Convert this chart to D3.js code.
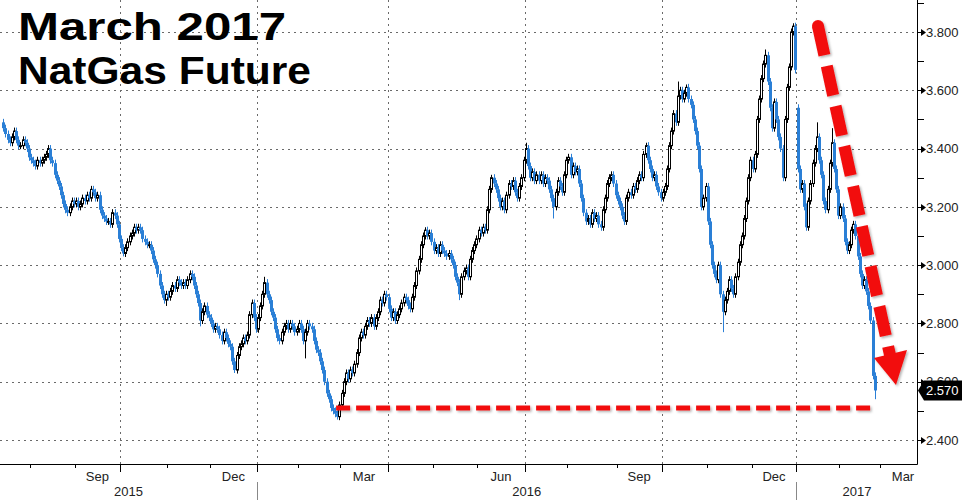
<!DOCTYPE html>
<html><head><meta charset="utf-8">
<script src="https://cdn.jsdelivr.net/npm/d3@7"></script>
<style>html,body{margin:0;padding:0;background:#fff;}svg{display:block;}</style>
</head><body>
<script>
// ---------------- DATA ----------------
const titleLines = ["March 2017", "NatGas Future"];
const yTicks = [2.4, 2.6, 2.8, 3.0, 3.2, 3.4, 3.6, 3.8];
const yMinor = [2.5, 2.7, 2.9, 3.1, 3.3, 3.5, 3.7, 3.9];
const lastValue = 2.570;
const supportLevel = 2.51;
const monthLabels = ["Sep", "Dec", "Mar", "Jun", "Sep", "Dec", "Mar"];
const monthLabelKeys = ["2015-09", "2015-12", "2016-03", "2016-06", "2016-09", "2016-12", "2017-03"];
const yearLabels = ["2015", "2016", "2017"];
const holidays = ["2015-09-07","2015-11-26","2015-12-25","2016-01-01","2016-01-18","2016-02-15","2016-03-25",
  "2016-05-30","2016-07-04","2016-09-05","2016-11-24","2016-12-26","2017-01-02","2017-01-16","2017-02-20"];
const monthKeys = ["2015-07","2015-08","2015-09","2015-10","2015-11","2015-12","2016-01","2016-02","2016-03",
  "2016-04","2016-05","2016-06","2016-07","2016-08","2016-09","2016-10","2016-11","2016-12","2017-01","2017-02"];
// daily closes, one list per month (trading days from 15 Jul 2015 to 24 Feb 2017)
const closesByMonth = [
  [3.47,3.45,3.43,3.42,3.44,3.46,3.43,3.41,3.41,3.43,3.42,3.40,3.37],
  [3.36,3.35,3.34,3.36,3.35,3.36,3.37,3.38,3.40,3.36,3.35,3.31,3.29,3.27,3.24,3.21,3.19,3.18,3.20,3.22,3.21],
  [3.22,3.20,3.21,3.23,3.22,3.24,3.23,3.26,3.25,3.23,3.24,3.19,3.17,3.16,3.15,3.15,3.14,3.18,3.17,3.14,3.09],
  [3.06,3.04,3.06,3.08,3.10,3.11,3.13,3.12,3.13,3.12,3.09,3.08,3.07,3.07,3.05,3.02,3.00,2.97,2.93,2.90,2.88,2.90],
  [2.89,2.91,2.93,2.92,2.95,2.94,2.93,2.94,2.93,2.95,2.97,2.96,2.93,2.90,2.87,2.81,2.84,2.86,2.83,2.82],
  [2.80,2.78,2.79,2.78,2.76,2.74,2.77,2.75,2.73,2.72,2.67,2.64,2.69,2.72,2.73,2.75,2.74,2.76,2.83,2.87,2.82,2.78],
  [2.82,2.86,2.90,2.94,2.90,2.88,2.84,2.82,2.78,2.75,2.74,2.77,2.79,2.80,2.78,2.80,2.79,2.77,2.78],
  [2.80,2.78,2.74,2.77,2.80,2.79,2.78,2.74,2.71,2.70,2.67,2.64,2.60,2.56,2.54,2.51,2.50,2.49,2.48,2.52],
  [2.56,2.60,2.63,2.61,2.64,2.63,2.66,2.70,2.75,2.77,2.76,2.79,2.81,2.80,2.82,2.79,2.82,2.84,2.88,2.87,2.90,2.89],
  [2.85,2.82,2.84,2.81,2.83,2.85,2.87,2.89,2.88,2.86,2.85,2.89,2.93,2.98,3.02,3.07,3.10,3.12,3.10,3.11,3.08],
  [3.05,3.06,3.04,3.07,3.05,3.04,3.03,3.04,3.02,3.00,2.96,2.94,2.90,2.96,2.98,2.99,2.96,3.02,3.05,3.07,3.09],
  [3.12,3.11,3.13,3.12,3.19,3.26,3.30,3.28,3.26,3.23,3.20,3.22,3.19,3.24,3.28,3.27,3.29,3.25,3.23,3.27,3.30,3.36],
  [3.40,3.34,3.30,3.32,3.29,3.31,3.29,3.31,3.28,3.30,3.29,3.26,3.23,3.20,3.25,3.29,3.27,3.25,3.31,3.36],
  [3.37,3.31,3.34,3.32,3.33,3.28,3.23,3.18,3.15,3.16,3.14,3.18,3.16,3.17,3.14,3.13,3.19,3.23,3.28,3.30,3.31,3.28,3.24],
  [3.22,3.20,3.17,3.15,3.23,3.25,3.24,3.27,3.26,3.29,3.31,3.30,3.38,3.41,3.36,3.33,3.30,3.31,3.27,3.25,3.23],
  [3.25,3.27,3.33,3.41,3.46,3.52,3.49,3.58,3.60,3.57,3.59,3.61,3.57,3.55,3.50,3.46,3.41,3.33,3.20,3.23,3.27],
  [3.15,3.07,3.00,2.97,2.95,3.00,2.90,2.84,2.88,2.91,2.95,2.92,2.90,2.96,3.01,3.07,3.10,3.16,3.22,3.30,3.36],
  [3.33,3.38,3.50,3.57,3.64,3.69,3.72,3.63,3.54,3.47,3.56,3.50,3.44,3.40,3.30,3.50,3.61,3.68,3.80,3.82,3.67],
  [3.33,3.26,3.28,3.20,3.13,3.22,3.28,3.35,3.40,3.44,3.36,3.31,3.22,3.19,3.26,3.35,3.42,3.33,3.26,3.17],
  [3.20,3.16,3.08,3.05,3.07,3.12,3.14,3.10,3.03,2.97,2.93,2.95,2.91,2.86,2.81,2.62,2.57]
];
const firstOpen = 3.49;
// notable wicks: [day index, value]
const wickHighs = [[122,2.96],[197,3.13],[228,3.31],[244,3.42],[300,3.42],[315,3.63],[319,3.62],[356,3.74],[369,3.83],[380,3.49],[387,3.47]];
const wickLows = [[56,3.03],[76,2.86],[92,2.79],[108,2.63],[141,2.68],[156,2.47],[213,2.88],[257,3.16],[336,2.77],[407,2.54]];
const gapOpens = [[371,3.54]];

// ---------------- SETUP ----------------
const W = 962, H = 502;
const axisX = 917, axisY = 464;
const BLUE = "#2a7fd6", RED = "#f21010";

const holidaySet = new Set(holidays);
const fmtDay = d3.utcFormat("%Y-%m-%d"), fmtMonth = d3.utcFormat("%Y-%m");
const tradingDays = d3.utcDay.range(new Date(Date.UTC(2015,6,15)), new Date(Date.UTC(2017,3,1)))
  .filter(d => d.getUTCDay() !== 0 && d.getUTCDay() !== 6 && !holidaySet.has(fmtDay(d)));
const firstIdxOfMonth = key => tradingDays.findIndex(d => fmtMonth(d) === key);

// assemble candles
const data = [];
monthKeys.forEach((key, mi) => {
  const idxs = d3.range(tradingDays.length).filter(i => fmtMonth(tradingDays[i]) === key);
  closesByMonth[mi].forEach((c, j) => { if (j < idxs.length) data.push({i: idxs[j], close: c}); });
});
const hiMap = new Map(wickHighs), loMap = new Map(wickLows), gapMap = new Map(gapOpens);
data.forEach((d, n) => {
  d.open = gapMap.has(d.i) ? gapMap.get(d.i) : (n === 0 ? firstOpen : data[n-1].close);
  d.up = d.close >= d.open;
  d.high = hiMap.has(d.i) ? hiMap.get(d.i) : Math.max(d.open, d.close) + 0.012;
  d.low = loMap.has(d.i) ? loMap.get(d.i) : Math.min(d.open, d.close) - 0.012;
});

const x = d3.scaleLinear()
  .domain([firstIdxOfMonth("2015-08") - 0.5, firstIdxOfMonth("2017-03") - 0.5])
  .range([30, 880]);
const y = d3.scaleLinear().domain([2.4, 3.8]).range([440, 32]);

const svg = d3.select("body").append("svg").attr("width", W).attr("height", H)
  .style("font-family", "'Liberation Sans', Arial, sans-serif");
svg.append("rect").attr("width", W).attr("height", H).attr("fill", "#fff");

const defs = svg.append("defs");
defs.append("clipPath").attr("id", "plot").append("rect").attr("x", 0).attr("y", 0).attr("width", axisX).attr("height", axisY);
const shadow = defs.append("filter").attr("id", "shadow").attr("x", "-20%").attr("y", "-20%").attr("width", "140%").attr("height", "140%");
shadow.append("feDropShadow").attr("dx", 1.5).attr("dy", 1.5).attr("stdDeviation", 1.2)
  .attr("flood-color", "#000").attr("flood-opacity", 0.3);

// month boundaries
const boundaryKeys = [];
for (let d = new Date(Date.UTC(2015,7,1)); d <= new Date(Date.UTC(2017,2,1)); d = d3.utcMonth.offset(d, 1)) boundaryKeys.push(fmtMonth(d));
const boundaries = boundaryKeys.map(k => ({key: k, m: +k.slice(5), x: x(firstIdxOfMonth(k) - 0.5)}));
const quarterB = boundaries.filter(b => [1,4,7,10].includes(b.m));

// grid
const grid = svg.append("g").attr("stroke", "#6a6a6a").attr("stroke-width", 1).attr("stroke-dasharray", "2,4");
grid.selectAll("line.h").data(yTicks).join("line").attr("class", "h")
  .attr("x1", 0).attr("x2", axisX).attr("y1", d => Math.round(y(d)) + 0.5).attr("y2", d => Math.round(y(d)) + 0.5);
grid.selectAll("line.v").data(quarterB).join("line").attr("class", "v")
  .attr("x1", d => Math.round(d.x) + 0.5).attr("x2", d => Math.round(d.x) + 0.5).attr("y1", 0).attr("y2", axisY);

// candles
const plot = svg.append("g").attr("clip-path", "url(#plot)");
const cg = plot.selectAll("g.c").data(data).join("g").attr("class", "c");
cg.append("line")
  .attr("x1", d => Math.round(x(d.i)) + 0.5).attr("x2", d => Math.round(x(d.i)) + 0.5)
  .attr("y1", d => y(d.high)).attr("y2", d => y(d.low))
  .attr("stroke", d => d.up ? "#000" : BLUE).attr("stroke-width", 1);
cg.append("rect")
  .attr("x", d => d.up ? Math.round(x(d.i)) - 0.5 : Math.round(x(d.i)) - 1)
  .attr("width", d => d.up ? 2 : 3)
  .attr("y", d => y(Math.max(d.open, d.close)))
  .attr("height", d => Math.max(1, y(Math.min(d.open, d.close)) - y(Math.max(d.open, d.close))))
  .attr("fill", d => d.up ? "#fff" : BLUE)
  .attr("stroke", d => d.up ? "#000" : "none").attr("stroke-width", 1);

// axes lines
svg.append("line").attr("x1", 0).attr("x2", axisX + 0.5).attr("y1", axisY + 0.5).attr("y2", axisY + 0.5).attr("stroke", "#000");
svg.append("line").attr("x1", axisX + 0.5).attr("x2", axisX + 0.5).attr("y1", 0).attr("y2", axisY + 0.5).attr("stroke", "#000");

// y axis ticks and labels
const ya = svg.append("g");
ya.selectAll("line.minor").data(yMinor).join("line")
  .attr("x1", axisX).attr("x2", axisX + 7).attr("y1", d => Math.round(y(d)) + 0.5).attr("y2", d => Math.round(y(d)) + 0.5)
  .attr("stroke", "#000");
ya.selectAll("line.major").data(yTicks).join("line")
  .attr("x1", axisX).attr("x2", axisX + 5).attr("y1", d => Math.round(y(d)) + 0.5).attr("y2", d => Math.round(y(d)) + 0.5)
  .attr("stroke", "#000");
ya.selectAll("path.arr").data(yTicks).join("path")
  .attr("d", d => { const yy = Math.round(y(d)) + 0.5; return `M${axisX+4},${yy-3.5}L${axisX+9},${yy}L${axisX+4},${yy+3.5}Z`; })
  .attr("fill", "#000");
ya.selectAll("text").data(yTicks).join("text")
  .attr("x", axisX + 9).attr("y", d => y(d)).attr("dy", "0.36em")
  .attr("font-size", 13).attr("fill", "#222").text(d => d3.format(".3f")(d));

// x axis ticks
const xa = svg.append("g");
xa.selectAll("line.t").data(boundaries).join("line")
  .attr("x1", d => Math.round(d.x) + 0.5).attr("x2", d => Math.round(d.x) + 0.5)
  .attr("y1", axisY).attr("y2", d => [1,4,7,10].includes(d.m) ? axisY + 8 : axisY + 4)
  .attr("stroke", "#000");
const monthCenter = key => {
  const s = x(firstIdxOfMonth(key) - 0.5);
  const nextKey = fmtMonth(d3.utcMonth.offset(new Date(key + "-01T00:00:00Z"), 1));
  let e = firstIdxOfMonth(nextKey);
  e = e < 0 ? x(tradingDays.length - 0.5) : x(e - 0.5);
  return (s + e) / 2;
};
xa.selectAll("text.m").data(monthLabels).join("text").attr("class", "m")
  .attr("x", (d, k) => Math.min(monthCenter(monthLabelKeys[k]), 903)).attr("y", 481)
  .attr("text-anchor", "middle").attr("font-size", 13).attr("fill", "#222").text(d => d);
const yearBounds = [0, x(firstIdxOfMonth("2016-01") - 0.5), x(firstIdxOfMonth("2017-01") - 0.5), axisX + 0.5];
xa.selectAll("text.y").data(yearLabels).join("text").attr("class", "y")
  .attr("x", (d, k) => (yearBounds[k] + yearBounds[k+1]) / 2).attr("y", 496)
  .attr("text-anchor", "middle").attr("font-size", 13).attr("fill", "#222").text(d => d);
xa.selectAll("line.ysep").data(yearBounds.slice(1, 3)).join("line").attr("class", "ysep")
  .attr("x1", d => Math.round(d) + 0.5).attr("x2", d => Math.round(d) + 0.5)
  .attr("y1", 482).attr("y2", 500).attr("stroke", "#888");

// last value tag
const ly = y(lastValue);
svg.append("path")
  .attr("d", `M${axisX+1},${ly}L${axisX+7},${ly-10}L${W},${ly-10}L${W},${ly+10}L${axisX+7},${ly+10}Z`)
  .attr("fill", "#000");
svg.append("text").attr("x", axisX + 9).attr("y", ly).attr("dy", "0.36em")
  .attr("font-size", 13).attr("fill", "#fff").text(d3.format(".3f")(lastValue));

// red annotations
const ann = svg.append("g").attr("filter", "url(#shadow)");
const supportStart = data.find(d => d.low <= 2.48);
ann.append("line")
  .attr("x1", x(supportStart.i) + 1).attr("x2", x(data[data.length - 1].i) + 1)
  .attr("y1", y(supportLevel)).attr("y2", y(supportLevel))
  .attr("stroke", RED).attr("stroke-width", 5).attr("stroke-dasharray", "14,6");
ann.append("line")
  .attr("x1", 818).attr("y1", 26).attr("x2", 890).attr("y2", 355)
  .attr("stroke", RED).attr("stroke-width", 12).attr("stroke-dasharray", "30,11");
ann.append("circle").attr("cx", 818).attr("cy", 26).attr("r", 6).attr("fill", RED);
ann.append("path").attr("d", "M874,358L907,350L896,385Z").attr("fill", RED);

// title
const tt = svg.append("g").attr("font-family", "'Liberation Sans', Arial, sans-serif").attr("font-weight", "bold").attr("fill", "#000");
tt.append("text").attr("x", 18).attr("y", 40).attr("font-size", 38)
  .attr("textLength", 268).attr("lengthAdjust", "spacingAndGlyphs").text(titleLines[0]);
tt.append("text").attr("x", 18).attr("y", 84).attr("font-size", 38)
  .attr("textLength", 293).attr("lengthAdjust", "spacingAndGlyphs").text(titleLines[1]);
</script>
</body></html>
